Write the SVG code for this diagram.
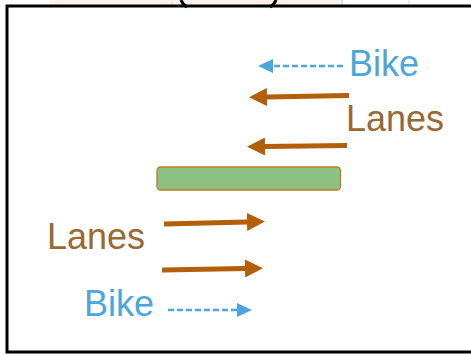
<svg xmlns="http://www.w3.org/2000/svg" width="471" height="354" viewBox="0 0 471 354">
<style>
.lane{stroke:#b35e0b;stroke-width:5;fill:none}
.bike{stroke:#4da6da;stroke-width:2.5;fill:none;stroke-dasharray:6 3}
.tl{font-family:"Liberation Sans",Arial,sans-serif;font-size:36px;fill:#9a6832}
.tb{font-family:"Liberation Sans",Arial,sans-serif;font-size:36px;fill:#4da6da}
</style>
<defs>
<marker id="ah" viewBox="0 0 18 18" refX="0" refY="9" markerUnits="userSpaceOnUse" markerWidth="18" markerHeight="18" orient="auto">
<path d="M0,0 L18,9 L0,18 Z" fill="#b35e0b"/>
</marker>
<marker id="bh" viewBox="0 0 15 14" refX="0" refY="7" markerUnits="userSpaceOnUse" markerWidth="15" markerHeight="14" orient="auto">
<path d="M0,0 L15,7 L0,14 Z" fill="#4da6da"/>
</marker>
</defs>
<rect x="0" y="0" width="471" height="354" fill="#ffffff"/>
<g id="background-fragment">
<rect x="50" y="0" width="290" height="5" fill="#fdf1ec"/>
<line x1="172" y1="0" x2="172" y2="5" stroke="#d8d8d8" stroke-width="1"/>
<line x1="342" y1="0" x2="342" y2="5" stroke="#d0d0d0" stroke-width="1.5"/>
<line x1="409" y1="0" x2="409" y2="5" stroke="#d8d8d8" stroke-width="1"/>
<path d="M181,0 Q183,5 187,7 M276,0 Q274,5 270,7" stroke="#000" stroke-width="3" fill="none"/>
</g>
<g id="frame">
<path d="M471,6 H7 V352 H471" fill="none" stroke="#000" stroke-width="3"/>
</g>
<g id="median">
<rect x="157" y="167" width="183.5" height="23" rx="3.5" fill="#8dc182" stroke="#c07a2a" stroke-width="1.3"/>
</g>
<g id="labels">
<text class="tb" x="349" y="76">Bike</text>
<text class="tl" x="346" y="131">Lanes</text>
<text class="tl" x="47" y="249">Lanes</text>
<text class="tb" x="84" y="316">Bike</text>
</g>
<g id="connectors">
<line class="bike" x1="343" y1="66" x2="273" y2="66" marker-end="url(#bh)"/>
<line class="lane" x1="349" y1="95.5" x2="267" y2="97" marker-end="url(#ah)"/>
<line class="lane" x1="347" y1="145.5" x2="265" y2="146.5" marker-end="url(#ah)"/>
<line class="lane" x1="164" y1="224" x2="247" y2="222" marker-end="url(#ah)"/>
<line class="lane" x1="162" y1="270" x2="245" y2="268.5" marker-end="url(#ah)"/>
<line class="bike" x1="168" y1="310" x2="237" y2="310" marker-end="url(#bh)"/>
</g>
</svg>
